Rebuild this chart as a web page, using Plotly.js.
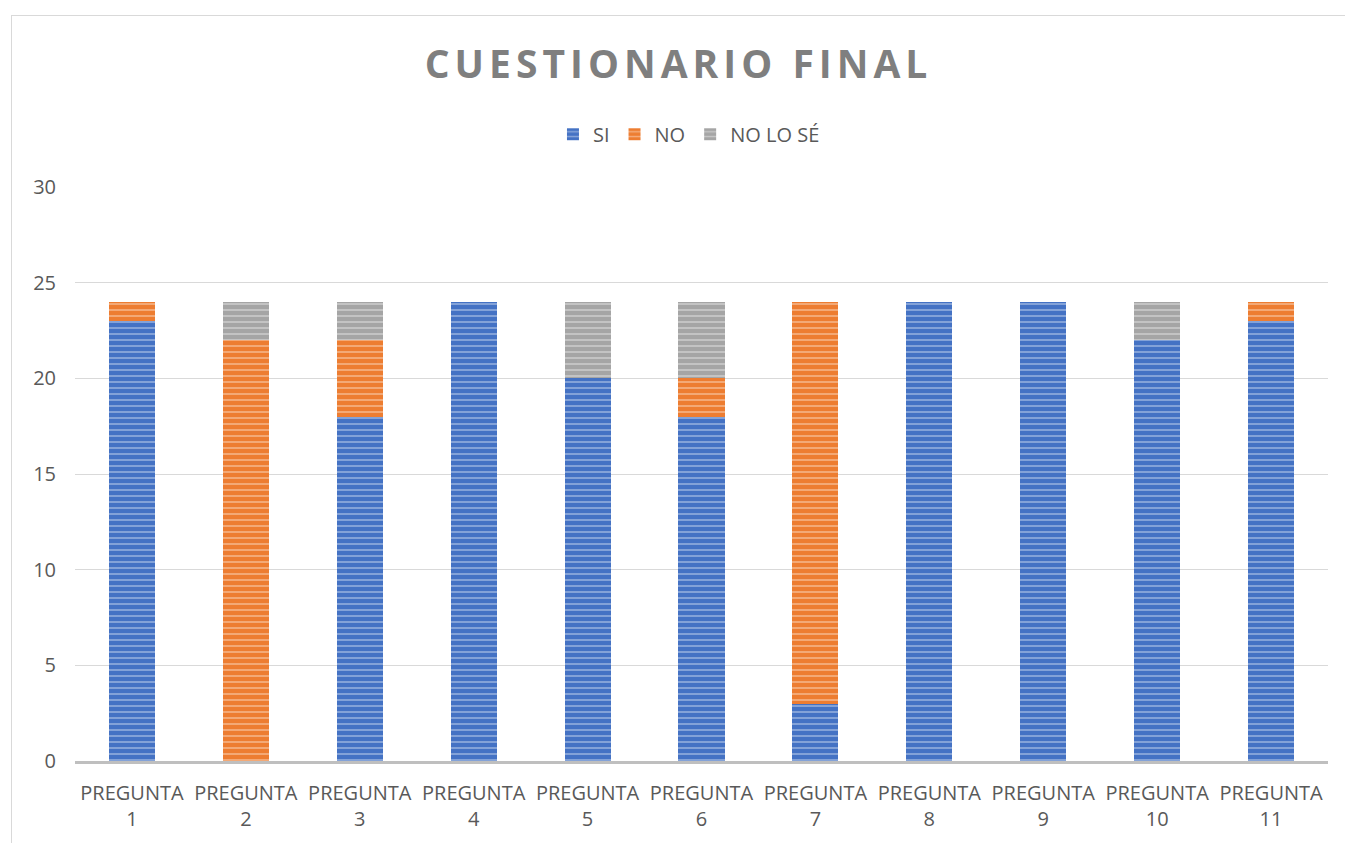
<!DOCTYPE html>
<html>
<head>
<meta charset="utf-8">
<script src="https://cdn.plot.ly/plotly-3.0.1.min.js"></script>
<style>
  html, body { margin: 0; padding: 0; background: #fff; overflow: hidden; }
  #frame { position: absolute; left: 11px; top: 15px; width: 1400px; height: 900px; border: 1px solid #d9d9d9; box-sizing: border-box; pointer-events: none; z-index: 5; }
  #chart { width: 1345px; height: 843px; }
</style>
</head>
<body>
<div id="frame"></div>
<div id="chart"></div>
<script>
const categories = ["PREGUNTA<br>1","PREGUNTA<br>2","PREGUNTA<br>3","PREGUNTA<br>4","PREGUNTA<br>5","PREGUNTA<br>6","PREGUNTA<br>7","PREGUNTA<br>8","PREGUNTA<br>9","PREGUNTA<br>10","PREGUNTA<br>11"];
const si      = [23, 0, 18, 24, 20, 18, 3, 24, 24, 22, 23];
const no      = [1, 22, 4, 0, 0, 2, 21, 0, 0, 0, 1];
const noLoSe  = [0, 2, 2, 0, 4, 4, 0, 0, 0, 2, 0];
const seriesNames = ["SI", "NO", "NO LO SÉ"];
const seriesColors = ["#4472C4", "#ED7D31", "#A5A5A5"];
const seriesValues = [si, no, noLoSe];

const traces = seriesValues.map((vals, i) => ({
  type: 'bar',
  name: seriesNames[i],
  x: categories,
  y: vals,
  marker: {
    color: seriesColors[i],
    line: { width: 0 },
    pattern: { shape: '-', fillmode: 'overlay', fgcolor: 'rgba(255,255,255,0.75)', size: 6, solidity: 0.3 }
  },
  hoverinfo: 'x+y+name'
}));

const layout = {
  width: 1345, height: 843,
  barmode: 'stack',
  bargap: 0.595,
  paper_bgcolor: '#ffffff',
  plot_bgcolor: '#ffffff',
  margin: { l: 75, r: 17, t: 187, b: 82 },
  font: { family: 'Open Sans, Liberation Sans, sans-serif', color: '#595959', size: 20 },
  title: {
    text: '<b><span style="letter-spacing:5px">CUESTIONARIO FINAL</span></b>',
    font: { family: 'Open Sans, Liberation Sans, sans-serif', size: 39, color: '#7f7f7f' },
    x: 0.5045, xanchor: 'center', xref: 'container',
    y: 0.924, yanchor: 'middle', yref: 'container'
  },
  legend: {
    orientation: 'h', x: 0.49, xanchor: 'center', y: 1.092, yanchor: 'middle',
    font: { size: 20, color: '#595959' },
    traceorder: 'normal', itemwidth: 30
  },
  xaxis: {
    type: 'category',
    showgrid: false,
    showline: true, linecolor: '#bfbfbf', linewidth: 3,
    ticks: '', ticklabelstandoff: 12,
    tickfont: { size: 20, color: '#595959' },
    fixedrange: true
  },
  yaxis: {
    range: [0, 30],
    dtick: 5,
    showgrid: true, gridcolor: '#d9d9d9', gridwidth: 1,
    zeroline: false, showline: false,
    ticks: '', ticklen: 0, ticklabelstandoff: 18,
    tickfont: { size: 20, color: '#595959' },
    fixedrange: true
  },
  showlegend: true
};

Plotly.newPlot('chart', traces, layout, { displayModeBar: false, staticPlot: true });
</script>
</body>
</html>
